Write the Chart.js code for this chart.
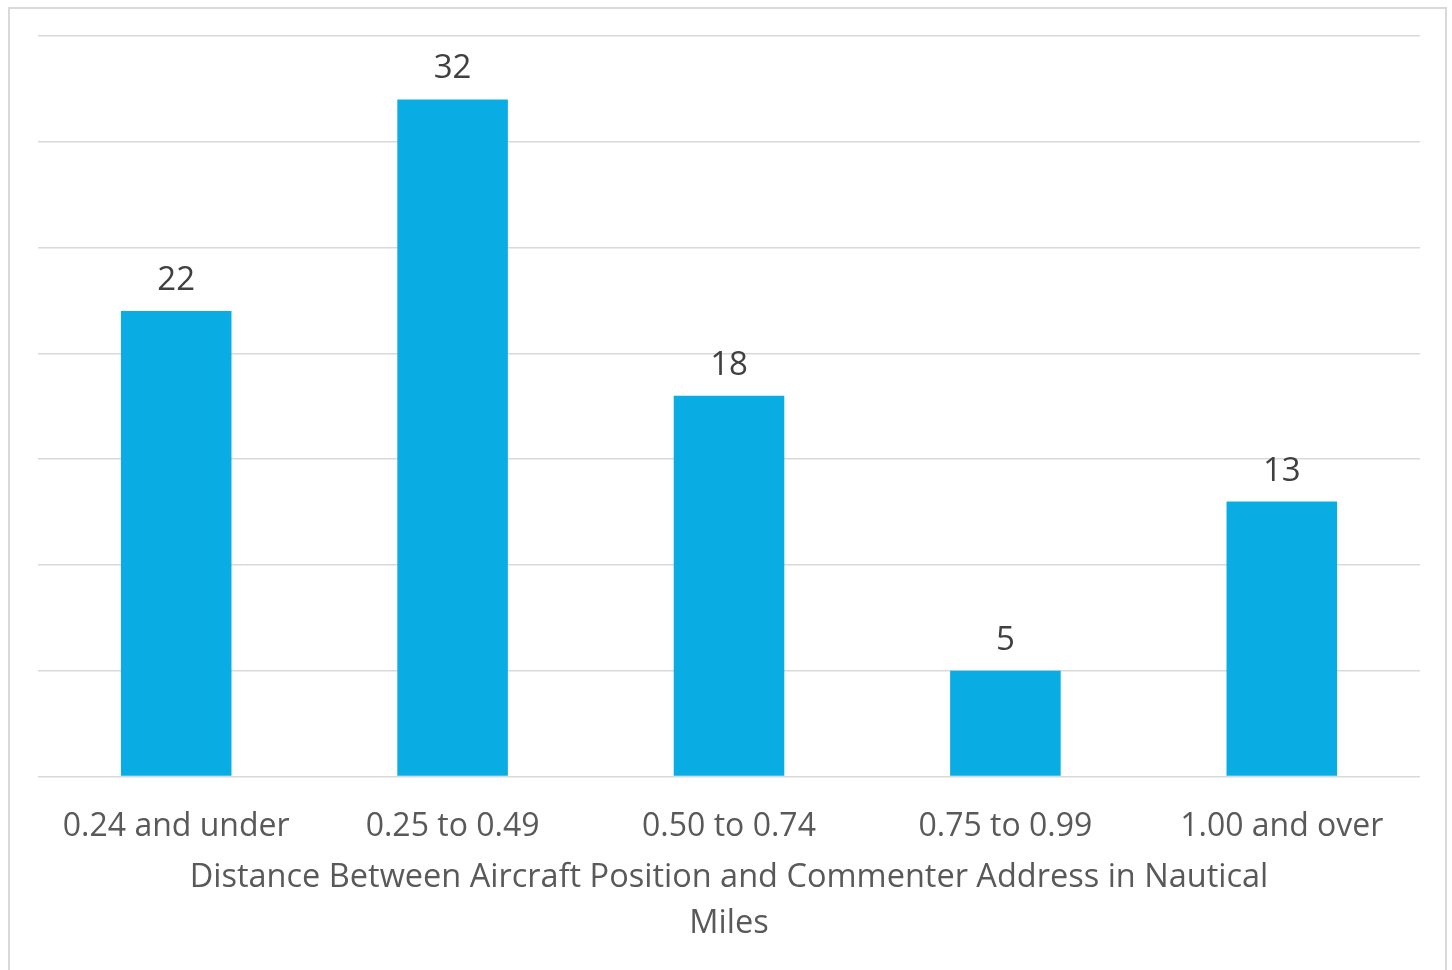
<!DOCTYPE html>
<html lang="en">
<head>
    <meta charset="UTF-8">
    <title>Distance chart</title>
    <script src="https://cdn.jsdelivr.net/npm/chart.js@4.4.3/dist/chart.umd.min.js"></script>
    <style>
        html, body { margin: 0; padding: 0; background: #fff; overflow: hidden; }
        .frame {
            position: absolute; left: 8px; top: 7px; width: 1439px; height: 1000px;
            border: 2px solid #d9d9d9; box-sizing: border-box;
        }
        .wrap { position: absolute; left: 0; top: 0; width: 1452px; height: 970px; }
    </style>
</head>
<body>
    <div class="frame"></div>
    <div class="wrap"><canvas id="mychart"></canvas></div>
    <script>
        const categories = ['0.24 and under', '0.25 to 0.49', '0.50 to 0.74', '0.75 to 0.99', '1.00 and over'];
        const counts = [22, 32, 18, 5, 13];
        const xTitle = ['Distance Between Aircraft Position and Commenter Address in Nautical', 'Miles'];

        // draw the value above each bar
        const valueLabels = {
            id: 'valueLabels',
            afterDatasetsDraw(chart) {
                const ctx = chart.ctx;
                ctx.save();
                ctx.font = '33px "Open Sans"';
                ctx.fillStyle = '#404040';
                ctx.textAlign = 'center';
                ctx.textBaseline = 'alphabetic';
                chart.getDatasetMeta(0).data.forEach((bar, i) => {
                    ctx.fillText(counts[i], bar.x, bar.y - 21);
                });
                ctx.restore();
            }
        };

        var mychart = new Chart(document.getElementById('mychart'), {
            type: 'bar',
            data: {
                labels: categories,
                datasets: [{
                    data: counts,
                    backgroundColor: '#0AADE3',
                    categoryPercentage: 1,
                    barPercentage: 0.4
                }]
            },
            options: {
                responsive: true,
                maintainAspectRatio: false,
                animation: false,
                layout: { padding: { left: 38, right: 32, top: 36, bottom: 24 } },
                plugins: { legend: { display: false }, tooltip: { enabled: false } },
                scales: {
                    y: {
                        min: 0,
                        max: 35,
                        ticks: { display: false, stepSize: 5 },
                        grid: { color: '#d9d9d9', lineWidth: 1.5, drawTicks: false },
                        border: { display: false }
                    },
                    x: {
                        grid: { display: false },
                        border: { display: false },
                        ticks: { color: '#595959', font: { family: 'Open Sans', size: 32 }, padding: 23 },
                        title: {
                            display: true,
                            text: xTitle,
                            color: '#595959',
                            font: { family: 'Open Sans', size: 32.5, lineHeight: 1.4 },
                            padding: { top: -14, bottom: 0 }
                        }
                    }
                }
            },
            plugins: [valueLabels]
        });
    </script>
</body>
</html>
